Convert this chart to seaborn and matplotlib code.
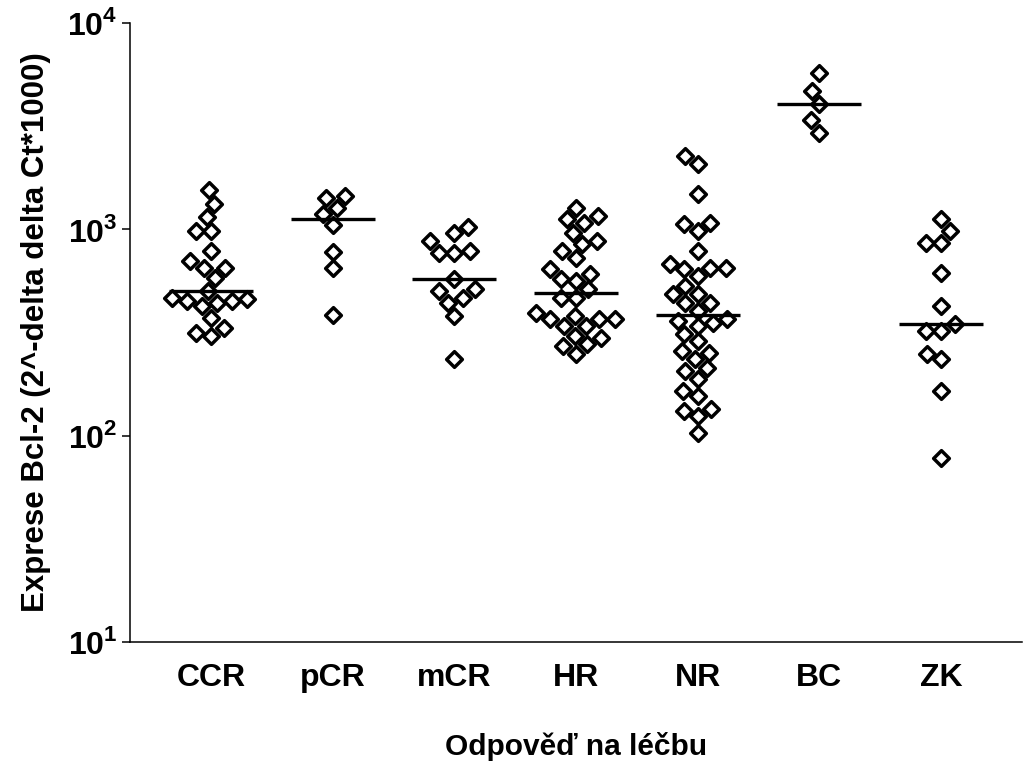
import matplotlib
matplotlib.use('Agg')
import matplotlib.pyplot as plt
import numpy as np
import pandas as pd
import seaborn as sns

# values (log scale)
groups = ['CCR', 'pCR', 'mCR', 'HR', 'NR', 'BC', 'ZK']

ccr = [1545, 1327, 1148, 981, 981, 785, 702, 652, 652, 581, 502,
       464, 459, 449, 440, 449, 425, 373, 332, 314, 304]
pcr = [1450, 1414, 1264, 1190, 1049, 779, 647, 384]
mcr = [1026, 963, 877, 770, 770, 785, 572, 502, 512, 466, 441, 380, 234]
hr = [1273, 1160, 1118, 1076, 963, 878, 846, 785, 729, 640, 605, 572, 562, 512,
      466, 466, 394, 380, 366, 366, 366, 340, 340, 304, 298, 277, 272, 248]
nr = [2266, 2066, 1478, 1076, 1057, 981, 785, 677, 651, 651, 640, 594, 531, 484,
      484, 441, 441, 402, 366, 359, 353, 340, 310, 287, 257, 252, 234, 213, 206,
      188, 165, 156, 134, 132, 124, 103]
bc = [5743, 4682, 4063, 3376, 2939]
zk = [1118, 981, 861, 861, 616, 425, 346, 321, 321, 234, 248, 165, 78]

ytick_vals = [10, 100, 1000, 10000]

rows = []
for g, vals in zip(groups, [ccr, pcr, mcr, hr, nr, bc, zk]):
    for v in vals:
        rows.append((g, v))
df = pd.DataFrame(rows, columns=['skupina', 'exprese'])

sns.set_theme(style='ticks')
plt.rcParams['font.family'] = ['Liberation Sans', 'DejaVu Sans']
plt.rcParams['mathtext.fontset'] = 'custom'
plt.rcParams['mathtext.rm'] = 'Liberation Sans:bold'
plt.rcParams['mathtext.bf'] = 'Liberation Sans:bold'
plt.rcParams['text.color'] = 'black'
plt.rcParams['axes.labelcolor'] = 'black'
plt.rcParams['xtick.color'] = 'black'
plt.rcParams['ytick.color'] = 'black'

fig = plt.figure(figsize=(10.26, 7.62), dpi=100)
ax = fig.add_axes([130 / 1026, 1 - 642 / 762, 892 / 1026, 619 / 762])
ax.set_yscale('log')
ax.set_ylim(10, 10000)

sns.swarmplot(data=df, x='skupina', y='exprese', order=groups, ax=ax,
              marker='D', size=8, color='white', edgecolor='black',
              linewidth=2.5, warn_thresh=1)

# median lines
med = df.groupby('skupina')['exprese'].median().reindex(groups)
ax.hlines(med.values, np.arange(len(groups)) - 0.345, np.arange(len(groups)) + 0.345,
          color='black', linewidth=2.4, zorder=5)

ax.set_xlim(-0.666, 6.666)
ax.set_yticks(ytick_vals)
ax.set_yticklabels([r'$10^{%d}$' % int(np.log10(v)) for v in ytick_vals])
ax.yaxis.set_minor_locator(matplotlib.ticker.NullLocator())

ax.tick_params(axis='x', length=0, pad=15, labelsize=23)
ax.tick_params(axis='y', length=6, width=1.1, pad=3, labelsize=23)
for lab in ax.get_xticklabels():
    lab.set_fontweight('bold')

sns.despine(ax=ax)
for s in ['left', 'bottom']:
    ax.spines[s].set_linewidth(1.1)
    ax.spines[s].set_color('black')

ax.set_xlabel('Odpověď na léčbu', fontsize=21.5, fontweight='bold', labelpad=28)
ax.set_ylabel('Exprese Bcl-2 (2^-delta delta Ct*1000)', fontsize=22.5,
              fontweight='bold', labelpad=12)

fig.savefig('out.png', dpi=100, facecolor='white')
